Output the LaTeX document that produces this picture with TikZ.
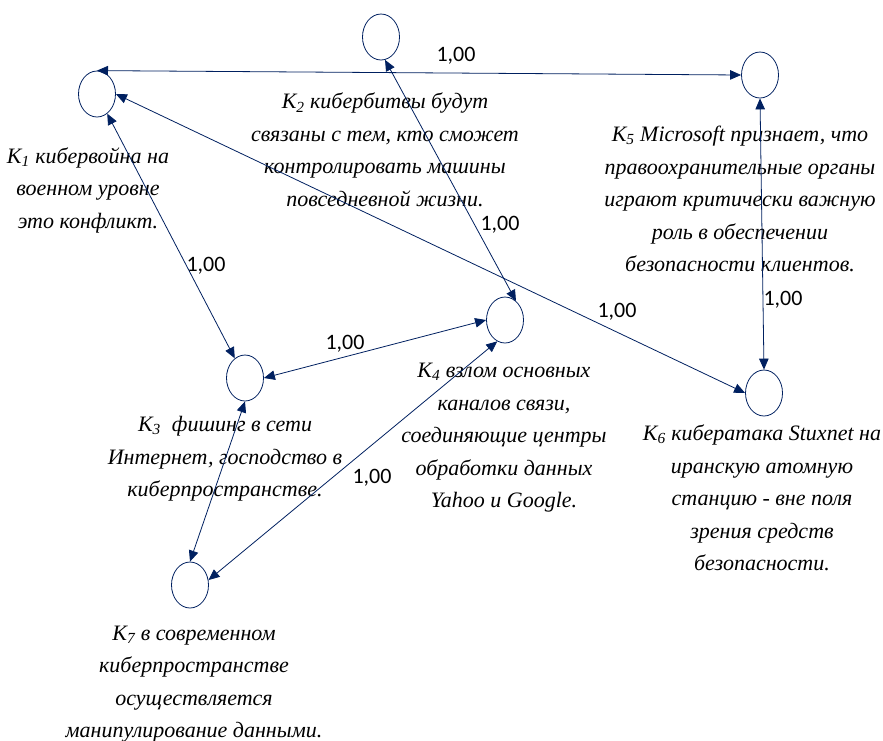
\documentclass[tikz,border=0pt]{standalone}
\usepackage{fontspec}
\setmainfont{Liberation Serif}
\newfontfamily\weightfont{Carlito}
\usetikzlibrary{shapes.geometric,arrows.meta}
\definecolor{linknavy}{HTML}{002060}

\tikzset{
  concept/.style={draw=linknavy, line width=0.8pt, ellipse, minimum width=37pt, minimum height=46pt, inner sep=0pt},
  caption/.style={align=center, inner sep=0pt, font=\fontsize{22}{32.5}\selectfont\itshape},
  weight/.style={inner sep=0pt, font=\fontsize{22}{22}\selectfont\weightfont},
  link/.style={draw=linknavy, line width=0.8pt, {Triangle[length=11pt,width=9.5pt]}-{Triangle[length=11pt,width=9.5pt]}}
}

\begin{document}
\begin{tikzpicture}[x=1pt,y=-1pt]
            \useasboundingbox (0,0) rectangle (883,740);
            % concepts
            \node[concept] (k1) at (97,94) {};
            \node[concept] (k2) at (381,37) {};
            \node[concept] (k3) at (245,378) {};
            \node[concept] (k4) at (505,320) {};
            \node[concept] (k5) at (760,75) {};
            \node[concept] (k6) at (764,393) {};
            \node[concept] (k7) at (190,585) {};

            % captions
            \node[caption] (c1) at (88,190) {K\textsubscript{1} кибервойна на\\военном уровне\\это конфликт.};
            \node[caption] (c2) at (385,150) {K\textsubscript{2} кибербитвы будут\\связаны с тем, кто сможет\\контролировать машины\\повседневной жизни.};
            \node[caption] (c3) at (225,459) {K\textsubscript{3}\ \ фишинг в сети\\Интернет, господство в\\киберпространстве.};
            \node[caption] (c4) at (504,438) {K\textsubscript{4} взлом основных\\каналов связи,\\соединяющие центры\\обработки данных\\Yahoo и Google.};
            \node[caption] (c5) at (740,199) {K\textsubscript{5} Microsoft признает, что\\правоохранительные органы\\играют критически важную\\роль в обеспечении\\безопасности клиентов.};
            \node[caption] (c6) at (762,498) {K\textsubscript{6} кибератака Stuxnet на\\иранскую атомную\\станцию - вне поля\\зрения средств\\безопасности.};
            \node[caption] (c7) at (194,684) {K\textsubscript{7} в современном\\киберпространстве\\осуществляется\\манипулирование данными.};

            % links
            \draw[link] (k1.north) -- (k5.west);
            \draw[link] (k2.280) -- (k4.60);
            \draw[link] (k1) -- (k3);
            \draw[link] (k1.east) -- (k6.west);
            \draw[link] (k3.east) -- (k4.west);
            \draw[link] (k5.south) -- (k6.north);
            \draw[link] (k3.south) -- (k7.north);
            \draw[link] (k4.250) -- (k7.15);

            % weights
            \node[weight] (w15) at (456,56) {1,00};
            \node[weight] (w24) at (500,225) {1,00};
            \node[weight] (w13) at (206,266) {1,00};
            \node[weight] (w34) at (345,344) {1,00};
            \node[weight] (w16) at (617,312) {1,00};
            \node[weight] (w56) at (783,300) {1,00};
            \node[weight] (w47) at (372,478) {1,00};
\end{tikzpicture}
\end{document}
